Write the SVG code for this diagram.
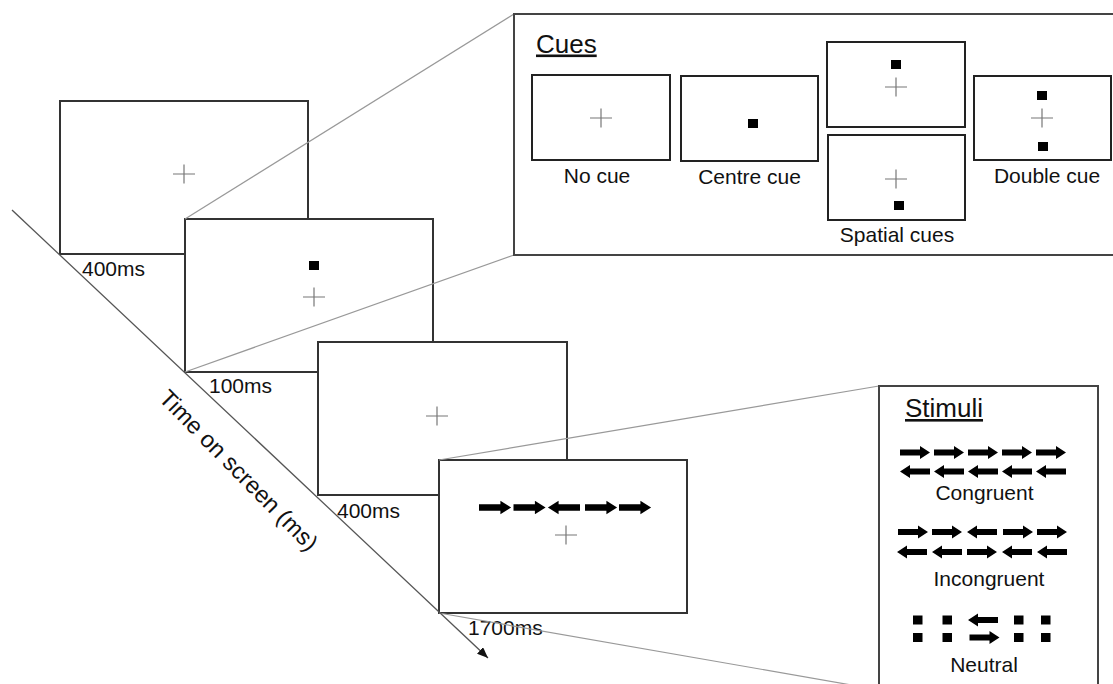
<svg xmlns="http://www.w3.org/2000/svg" xmlns:xlink="http://www.w3.org/1999/xlink" width="1113" height="684" viewBox="0 0 1113 684">
<style>
text{font-family:"Liberation Sans",Arial,Helvetica,sans-serif;fill:#111}
.lbl{font-size:21px}
.ttl{font-size:26px;text-decoration:underline}
.frame{fill:#fff;stroke:#333;stroke-width:2}
.panel{fill:#fff;stroke:#444;stroke-width:2}
.sub{fill:#fff;stroke:#222;stroke-width:2}
.cross{stroke:#777;stroke-width:1.2;fill:none}
.sq{fill:#000}
.zoom{stroke:#999;stroke-width:1.2;fill:none}
.axis{stroke:#555;stroke-width:1.3;fill:none}
</style>
<defs>
<path id="ar" d="M0,-3 H20 V-6.5 L30,0 L20,6.5 V3 H0 Z" fill="#000"/>
<path id="cr" d="M-11,0 H11 M0,-9.5 V9.5" class="cross"/>
<marker id="ah" markerUnits="userSpaceOnUse" markerWidth="11" markerHeight="9" refX="11" refY="4.5" orient="auto">
<path d="M0,0 L11,4.5 L0,9 Z" fill="#111"/>
</marker>
</defs>
<rect width="1113" height="684" fill="#fff"/>

<g id="frame1">
<rect class="frame" x="60" y="101" width="248" height="153"/>
<use href="#cr" x="184" y="174"/>
<text class="lbl" x="82" y="276">400ms</text>
</g>
<g id="frame2">
<rect class="frame" x="185" y="219" width="248" height="153"/>
<rect class="sq" x="309" y="261" width="10" height="9"/>
<use href="#cr" x="314" y="297"/>
<text class="lbl" x="209" y="393">100ms</text>
</g>
<g id="frame3">
<rect class="frame" x="318" y="342" width="249" height="153"/>
<use href="#cr" x="437" y="416"/>
<text class="lbl" x="337" y="518">400ms</text>
</g>
<g id="frame4">
<rect class="frame" x="439" y="460" width="248" height="153"/>
<use href="#ar" transform="translate(479,507.5) scale(1.07,1.05)"/>
<use href="#ar" transform="translate(513.5,507.5) scale(1.07,1.05)"/>
<use href="#ar" transform="translate(580,507.5) scale(-1.07,1.05)"/>
<use href="#ar" transform="translate(585,507.5) scale(1.07,1.05)"/>
<use href="#ar" transform="translate(619,507.5) scale(1.07,1.05)"/>
<use href="#cr" x="566" y="535"/>
<text class="lbl" x="468" y="635">1700ms</text>
</g>

<g id="connectors">
<line class="zoom" x1="185" y1="219" x2="514" y2="14"/>
<line class="zoom" x1="185" y1="372" x2="514" y2="255"/>
<line class="zoom" x1="439" y1="460" x2="879" y2="386"/>
<line class="zoom" x1="439" y1="613" x2="880" y2="690"/>
<line class="axis" x1="12" y1="210" x2="488" y2="658" marker-end="url(#ah)"/>
</g>

<g id="axis-label">
<text transform="translate(233,476) rotate(45.5)" text-anchor="middle" style="font-size:23.5px">Time on screen (ms)</text>
</g>

<g id="cues">
<rect class="panel" x="514" y="14" width="610" height="241"/>
<text class="ttl" x="536" y="52.5">Cues</text>
<g id="nocue">
<rect class="sub" x="532" y="75" width="138" height="85"/>
<use href="#cr" x="601" y="118"/>
<text class="lbl" x="597" y="182.5" text-anchor="middle">No cue</text>
</g>
<g id="centrecue">
<rect class="sub" x="681" y="76" width="137" height="85"/>
<rect class="sq" x="748" y="119" width="10" height="9"/>
<text class="lbl" x="749.5" y="184" text-anchor="middle">Centre cue</text>
</g>
<g id="spatialcues">
<rect class="sub" x="827" y="42" width="138" height="85"/>
<rect class="sq" x="891" y="60" width="10" height="9"/>
<use href="#cr" x="896" y="87"/>
<rect class="sub" x="828" y="135" width="137" height="85"/>
<use href="#cr" x="896" y="179"/>
<rect class="sq" x="894" y="201" width="10" height="9"/>
<text class="lbl" x="897" y="242" text-anchor="middle">Spatial cues</text>
</g>
<g id="doublecue">
<rect class="sub" x="974" y="76" width="137" height="84"/>
<rect class="sq" x="1037" y="91" width="10" height="9"/>
<use href="#cr" x="1042" y="118"/>
<rect class="sq" x="1038" y="142" width="10" height="9"/>
<text class="lbl" x="1047" y="183" text-anchor="middle">Double cue</text>
</g>
</g>

<g id="stimuli">
<rect class="panel" x="879" y="386" width="219" height="320"/>
<text class="ttl" x="905" y="417">Stimuli</text>
<g id="congruent">
<use href="#ar" transform="translate(900,452.5)"/>
<use href="#ar" transform="translate(934,452.5)"/>
<use href="#ar" transform="translate(968,452.5)"/>
<use href="#ar" transform="translate(1002,452.5)"/>
<use href="#ar" transform="translate(1036,452.5)"/>
<use href="#ar" transform="translate(930,471.5) scale(-1,1)"/>
<use href="#ar" transform="translate(964,471.5) scale(-1,1)"/>
<use href="#ar" transform="translate(998,471.5) scale(-1,1)"/>
<use href="#ar" transform="translate(1032,471.5) scale(-1,1)"/>
<use href="#ar" transform="translate(1066,471.5) scale(-1,1)"/>
<text class="lbl" x="984.5" y="500" text-anchor="middle">Congruent</text>
</g>
<g id="incongruent">
<use href="#ar" transform="translate(898,532)"/>
<use href="#ar" transform="translate(932,532)"/>
<use href="#ar" transform="translate(997,532) scale(-1,1)"/>
<use href="#ar" transform="translate(1003,532)"/>
<use href="#ar" transform="translate(1037,532)"/>
<use href="#ar" transform="translate(927,552) scale(-1,1)"/>
<use href="#ar" transform="translate(962,552) scale(-1,1)"/>
<use href="#ar" transform="translate(967,552)"/>
<use href="#ar" transform="translate(1032,552) scale(-1,1)"/>
<use href="#ar" transform="translate(1067,552) scale(-1,1)"/>
<text class="lbl" x="989" y="585.5" text-anchor="middle">Incongruent</text>
</g>
<g id="neutral">
<rect class="sq" x="913" y="615.5" width="9.5" height="9"/>
<rect class="sq" x="942.5" y="615.5" width="9.5" height="9"/>
<rect class="sq" x="1014" y="615.5" width="9.5" height="9"/>
<rect class="sq" x="1041" y="615.5" width="9.5" height="9"/>
<rect class="sq" x="913" y="633" width="9.5" height="9"/>
<rect class="sq" x="942.5" y="633" width="9.5" height="9"/>
<rect class="sq" x="1014" y="633" width="9.5" height="9"/>
<rect class="sq" x="1041" y="633" width="9.5" height="9"/>
<use href="#ar" transform="translate(998,620) scale(-1,1)"/>
<use href="#ar" transform="translate(969.5,637.5)"/>
<text class="lbl" x="984" y="671.5" text-anchor="middle">Neutral</text>
</g>
</g>
</svg>
